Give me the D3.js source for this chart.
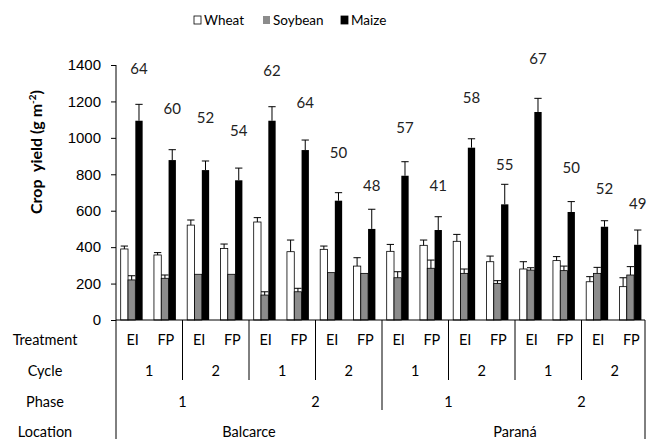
<!DOCTYPE html>
<html>
<head>
<meta charset="utf-8">
<script src="https://cdn.jsdelivr.net/npm/d3@7"></script>
<style>
  body { margin: 0; background: #fff; }
  svg { font-family: Lato, "Open Sans", sans-serif; }
  .axis path, .axis line { stroke: #000; }
  .axis text { font-size: 15px; fill: #000; }
</style>
</head>
<body>
<script>
// treatment columns, left to right
const treatments = ["EI", "FP", "EI", "FP", "EI", "FP", "EI", "FP",
                    "EI", "FP", "EI", "FP", "EI", "FP", "EI", "FP"];
const cycles = ["1", "2", "1", "2", "1", "2", "1", "2"];
const phases = ["1", "2", "1", "2"];
const locations = ["Balcarce", "Paraná"];
const crops = ["Wheat", "Soybean", "Maize"];

const wheat   = [390, 357, 521, 393, 538, 375, 388, 296, 377, 410, 432, 320, 280, 326, 210, 183];
const soybean = [220, 229, 251, 251, 137, 155, 260, 256, 232, 284, 256, 201, 274, 271, 256, 247];
const maize   = [1094, 878, 823, 767, 1094, 933, 655, 500, 792, 494, 946, 635, 1142, 593, 512, 413];

const wheatErr   = [16, 13, 28, 24, 24, 64, 18, 46, 38, 29, 38, 31, 40, 22, 28, 49];
const soybeanErr = [23, 18, 0, 0, 18, 19, 0, 0, 33, 45, 24, 15, 13, 25, 33, 46];
const maizeErr   = [90, 57, 50, 67, 77, 55, 44, 108, 77, 73, 49, 110, 75, 57, 33, 81];

// numbers printed above each maize bar, and the height (in g m-2) they sit at
const topLabels = [64, 60, 52, 54, 62, 64, 50, 48, 57, 41, 58, 55, 67, 50, 52, 49];
const topLabelAt = [1378, 1158, 1109, 1038, 1367, 1191, 917, 736, 1054, 736, 1219, 851, 1433, 834, 719, 637];

const yTicks = [0, 200, 400, 600, 800, 1000, 1200, 1400];
const rowNames = ["Treatment", "Cycle", "Phase", "Location"];

const width = 649, height = 439;
const plotLeft = 116, plotRight = 648, plotTop = 65, plotBottom = 320;

const svg = d3.select("body").append("svg")
  .attr("width", width)
  .attr("height", height);

const y = d3.scaleLinear().domain([0, 1400]).range([plotBottom, plotTop]);

const x = d3.scaleBand()
  .domain(d3.range(treatments.length))
  .range([plotLeft, plotRight]);

const inner = d3.scaleBand()
  .domain(crops)
  .range([0, x.bandwidth() * 0.66])
  .paddingInner(0);

const fills = { Wheat: "#fff", Soybean: "#8c8c8c", Maize: "#000" };
const values = { Wheat: wheat, Soybean: soybean, Maize: maize };
const errs = { Wheat: wheatErr, Soybean: soybeanErr, Maize: maizeErr };
const barOffset = 4.7;

// y axis
svg.append("g")
  .attr("class", "axis")
  .attr("transform", `translate(${plotLeft},0)`)
  .call(d3.axisLeft(y).tickValues(yTicks).tickFormat(d3.format("d"))
    .tickSize(5).tickPadding(10).tickSizeOuter(0))
  .call(g => g.select(".domain").attr("d", `M0,${plotTop}V${plotBottom}`));

// y title
const yTitle = svg.append("text")
  .attr("transform", "translate(42,152) rotate(-90)")
  .attr("text-anchor", "middle")
  .attr("font-size", 16)
  .attr("font-weight", "bold")
  .style("white-space", "pre");
yTitle.append("tspan").text("Crop  yield (g m");
yTitle.append("tspan").attr("font-size", 10).attr("dy", -6).text("-2");
yTitle.append("tspan").attr("dy", 6).text(")");

// bars
const cols = svg.append("g").selectAll("g.col")
  .data(d3.range(treatments.length))
  .join("g")
  .attr("class", "col")
  .attr("transform", i => `translate(${x(i) + barOffset},0)`);

crops.forEach(c => {
  cols.append("rect")
    .attr("x", inner(c))
    .attr("width", inner.bandwidth())
    .attr("y", i => y(values[c][i]))
    .attr("height", i => plotBottom - y(values[c][i]))
    .attr("fill", fills[c])
    .attr("stroke", "#000")
    .attr("stroke-width", c === "Maize" ? 0 : 0.8);

  const eb = cols.filter(i => errs[c][i] > 0).append("g")
    .attr("stroke", "#000")
    .attr("stroke-width", 1);
  eb.append("line")
    .attr("x1", inner(c) + inner.bandwidth() / 2)
    .attr("x2", inner(c) + inner.bandwidth() / 2)
    .attr("y1", i => y(values[c][i]))
    .attr("y2", i => y(values[c][i] + errs[c][i]));
  eb.append("line")
    .attr("x1", inner(c))
    .attr("x2", inner(c) + inner.bandwidth())
    .attr("y1", i => y(values[c][i] + errs[c][i]))
    .attr("y2", i => y(values[c][i] + errs[c][i]));
});

// labels over maize bars
cols.append("text")
  .attr("x", inner("Maize") + inner.bandwidth() / 2)
  .attr("y", i => y(topLabelAt[i]))
  .attr("dy", "0.35em")
  .attr("text-anchor", "middle")
  .attr("font-size", 15)
  .attr("fill", "#222")
  .text(i => topLabels[i]);

// x axis line
svg.append("line")
  .attr("x1", plotLeft).attr("x2", plotRight - 3)
  .attr("y1", plotBottom).attr("y2", plotBottom)
  .attr("stroke", "#000");

// category table below
const rowY = [340, 371, 402, 432];
const rowBottom = [380, 380, 410, 439];
const levels = [treatments, cycles, phases, locations];

rowNames.forEach((name, r) => {
  svg.append("text")
    .attr("x", 45)
    .attr("y", rowY[r])
    .attr("dy", "0.35em")
    .attr("text-anchor", "middle")
    .attr("font-size", 14.5)
    .text(name);

  const labs = levels[r];
  const span = treatments.length / labs.length;
  svg.append("g").selectAll("text")
    .data(labs)
    .join("text")
    .attr("x", (d, k) => (x(k * span) + x(k * span + span - 1) + x.bandwidth()) / 2)
    .attr("y", rowY[r])
    .attr("dy", "0.35em")
    .attr("text-anchor", "middle")
    .attr("font-size", 14.5)
    .text(d => d);
});

// separators: deeper groups get longer lines
const seps = [];
for (let k = 0; k <= treatments.length; k += 2) {
  let depth = 0;
  if (k % 4 === 0) depth = 1;
  if (k % 8 === 0) depth = 2;
  if (k === 0 || k === treatments.length) depth = 3;
  if (k > 0 && k < treatments.length) depth = Math.min(depth, 2);
  seps.push({ k, depth });
}
svg.append("g").selectAll("line")
  .data(seps)
  .join("line")
  .attr("x1", d => (d.k === treatments.length ? plotRight - 3 : x(d.k)))
  .attr("x2", d => (d.k === treatments.length ? plotRight - 3 : x(d.k)))
  .attr("y1", plotBottom)
  .attr("y2", d => rowBottom[d.depth])
  .attr("stroke", "#000");

// legend
const legendX = [194, 263, 341];
const legend = svg.append("g").selectAll("g")
  .data(crops)
  .join("g")
  .attr("transform", (d, i) => `translate(${legendX[i]},15)`);
legend.append("rect")
  .attr("width", 7).attr("height", 8)
  .attr("y", 1)
  .attr("fill", d => fills[d])
  .attr("stroke", d => d === "Soybean" ? "none" : "#000")
  .attr("stroke-width", 0.8);
legend.append("text")
  .attr("x", 10)
  .attr("y", 5)
  .attr("dy", "0.35em")
  .attr("font-size", 13.5)
  .text(d => d);
</script>
</body>
</html>
